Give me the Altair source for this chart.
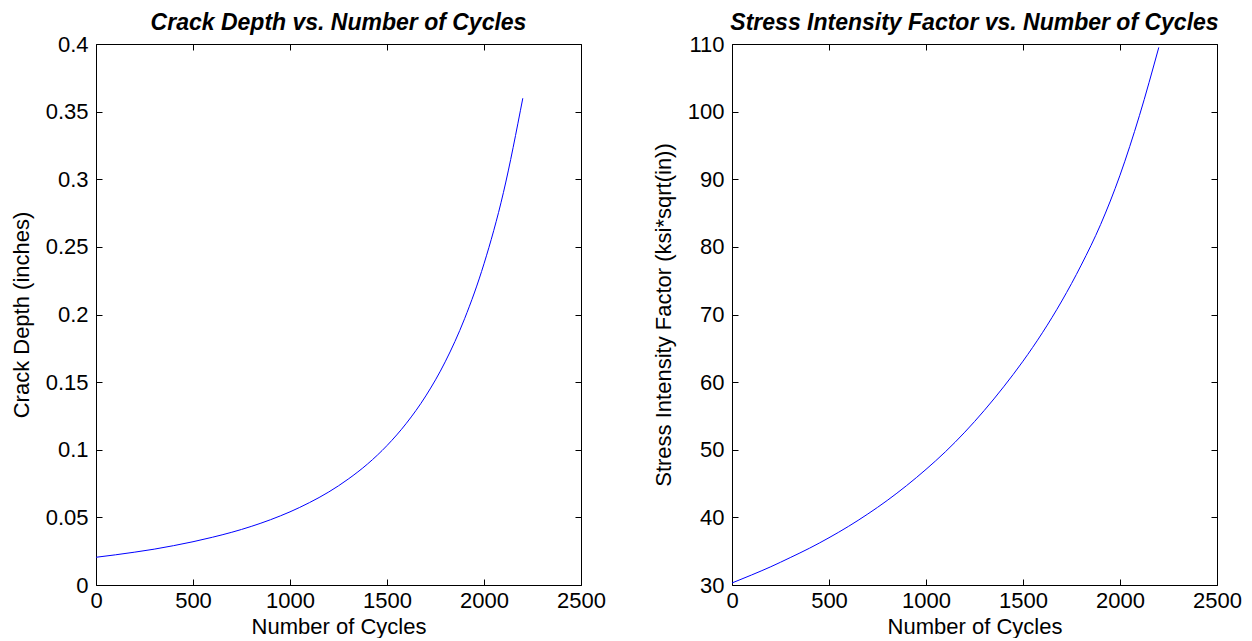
import altair as alt
import pandas as pd

cycles = [0, 100, 200, 300, 400, 500, 600, 700, 800, 900, 1000, 1100,
          1200, 1300, 1400, 1500, 1600, 1700, 1800, 1900, 2000, 2100, 2200]
crack_depth = [0.0205, 0.0223, 0.0243, 0.0265, 0.0291, 0.0320, 0.0353, 0.0390,
               0.0433, 0.0483, 0.0541, 0.0609, 0.0688, 0.0783, 0.0895, 0.1031,
               0.1196, 0.1398, 0.1650, 0.1969, 0.2375, 0.2901, 0.3599]
stress_k = [30.3, 31.47, 32.70, 34.05, 35.45, 36.99, 38.66, 40.5, 42.5, 44.7, 47.1,
            49.7, 52.6, 55.8, 59.3, 63.1, 67.3, 72.0, 77.3, 83.3, 90.6, 99.4, 109.5]

x_ticks = [0, 500, 1000, 1500, 2000, 2500]
y1_ticks = [0, 0.05, 0.1, 0.15, 0.2, 0.25, 0.3, 0.35, 0.4]
y2_ticks = [30, 40, 50, 60, 70, 80, 90, 100, 110]

FONT = "Liberation Sans"
LFS = 22
TFS = 23


def panel(df, ycol, ydom, yticks, yfmt, ytitle, title, ypad):
    xs = alt.Scale(domain=[0, 2500], nice=False, zero=False)
    ys = alt.Scale(domain=ydom, nice=False, zero=False)
    base = alt.Chart(df)
    lab = base.mark_line(color="#0000ff", strokeWidth=1, interpolate="monotone").encode(
        x=alt.X("cycles:Q", scale=xs,
                axis=alt.Axis(values=x_ticks, format="d", ticks=False, domain=False,
                              grid=False, labelFont=FONT, labelFontSize=LFS,
                              labelColor="black", labelPadding=5, title="Number of Cycles",
                              titleFont=FONT, titleFontSize=LFS, titleFontWeight="normal",
                              titleColor="black", titlePadding=5, labelFlush=False)),
        y=alt.Y(f"{ycol}:Q", scale=ys,
                axis=alt.Axis(values=yticks, format=yfmt, ticks=False, domain=False,
                              grid=False, labelFont=FONT, labelFontSize=LFS,
                              labelColor="black", labelPadding=8, title=ytitle,
                              titleFont=FONT, titleFontSize=LFS, titleFontWeight="normal",
                              titleColor="black", titlePadding=ypad, labelFlush=False)),
    )
    tick_ax = dict(ticks=True, tickSize=6, tickColor="black", tickWidth=1,
                   labels=False, domain=False, grid=False, title=None, offset=-6,
                   minExtent=0, maxExtent=0)
    in1 = base.mark_line(strokeOpacity=0).encode(
        x=alt.X("cycles:Q", scale=xs, axis=alt.Axis(values=x_ticks, orient="bottom", **tick_ax)),
        y=alt.Y(f"{ycol}:Q", scale=ys, axis=alt.Axis(values=yticks, orient="left", **tick_ax)),
    )
    in2 = base.mark_line(strokeOpacity=0).encode(
        x=alt.X("cycles:Q", scale=xs, axis=alt.Axis(values=x_ticks, orient="top", **tick_ax)),
        y=alt.Y(f"{ycol}:Q", scale=ys, axis=alt.Axis(values=yticks, orient="right", **tick_ax)),
    )
    return alt.layer(lab, in1, in2).resolve_axis(x="independent", y="independent").properties(
        width=485, height=541,
        title=alt.TitleParams(title, font=FONT, fontSize=TFS, fontStyle="italic",
                              fontWeight="bold", color="black", offset=-2, anchor="middle"),
    )


df = pd.DataFrame({"cycles": cycles, "depth": crack_depth, "k": stress_k})

left = panel(df, "depth", [0, 0.4], y1_ticks, "~g", "Crack Depth (inches)",
             "Crack Depth vs. Number of Cycles", 12)
right = panel(df, "k", [30, 110], y2_ticks, "d", "Stress Intensity Factor (ksi*sqrt(in))",
              "Stress Intensity Factor vs. Number of Cycles", 12)

chart = alt.hconcat(left, right, spacing=151, bounds="flush").configure_view(
    stroke="black", strokeWidth=1
).properties(background="white", padding={"left": 1, "top": 3, "right": 0, "bottom": 0})

chart.save("out.html", embed_options={"renderer": "svg", "actions": False})
